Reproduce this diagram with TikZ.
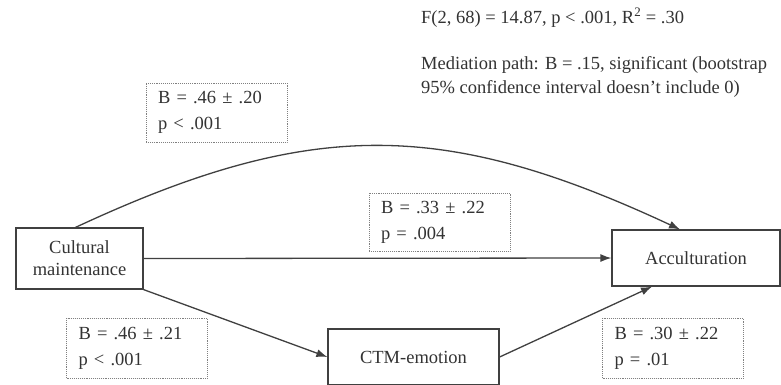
\documentclass[tikz,border=0pt]{standalone}
\usepackage{fontspec}
\setmainfont{Liberation Serif}
\usetikzlibrary{arrows.meta}

\tikzset{
  var/.style={draw=black!75, line width=1.2pt, fill=white, align=center,
    text=black!80, font=\fontsize{18.5}{22}\selectfont},
  coef/.style={draw=gray, densely dotted, line width=0.9pt, text width=117pt,
    inner xsep=12pt, align=left, minimum height=59pt, text=black!80,
    font=\fontsize{18.5}{26}\selectfont},
  note/.style={inner sep=0pt, align=left, text=black!80,
    font=\fontsize{18.5}{24}\selectfont},
  link/.style={draw=black!75, line width=1.3pt, -{Latex[length=11pt,width=8pt]}}
}

\begin{document}
\begin{tikzpicture}[x=1pt,y=-1pt]

  % white page, same size as the figure
  \clip (0,0) rectangle (781,384);
  \fill [white] (0,0) rectangle (781,384);

  % model statistics
  \node (fit) [note, anchor=base west] at (421,23)
    {F(2, 68) = 14.87, p < .001, R\textsuperscript{2} = .30};
  \node (med) [note, anchor=north west] at (421,56)
    {Mediation path: B = .15, significant (bootstrap\\95\% confidence interval doesn’t include 0)};

  % variables
  \node (cult) [var, minimum width=127pt, minimum height=61pt] at (79.5,258.5)
    {Cultural\\maintenance};
  \node (acc) [var, minimum width=168pt, minimum height=56pt] at (696,258)
    {Acculturation};
  \node (ctm) [var, minimum width=171pt, minimum height=56pt] at (413.5,357)
    {CTM-emotion};

  % paths
  \draw [link] ([xshift=-4pt]cult.north) .. controls +(236,-110) and +(-236,-110)
    .. ([xshift=-16pt]acc.north);
  \draw [link] (cult.east) -- (acc.west);
  \draw [link] (cult.south east) -- (ctm.west);
  \draw [link] (ctm.east) -- ([xshift=-44pt]acc.south);

  % coefficients
  \node (total) [coef] at (216.5,112.5) {B = .46 ± .20\\p < .001};
  \node (direct) [coef, minimum height=58pt] at (439.5,222) {B = .33 ± .22\\p = .004};
  \node (pathA) [coef, minimum height=60pt] at (137,348) {B = .46 ± .21\\p < .001};
  \node (pathB) [coef, minimum height=60pt] at (673,348) {B = .30 ± .22\\p = .01};

\end{tikzpicture}
\end{document}
